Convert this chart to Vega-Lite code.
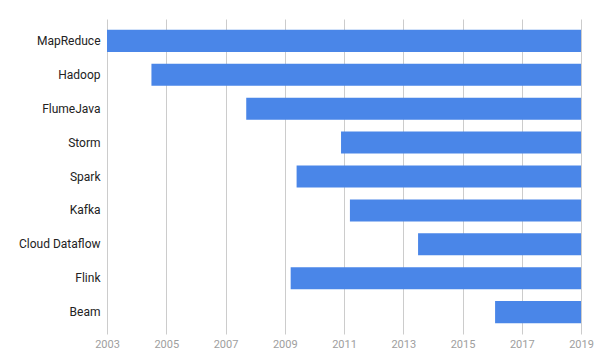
{
  "$schema": "https://vega.github.io/schema/vega-lite/v6.json",
  "width": 474,
  "height": 315,
  "autosize": {"type": "none"},
  "padding": {"left": 107, "top": 19, "right": 19, "bottom": 17},
  "background": "white",
  "config": {"view": {"stroke": null}, "font": "Roboto"},
  "data": {"values": [
    {"name": "MapReduce", "start": 2003.0, "end": 2019},
    {"name": "Hadoop", "start": 2004.5, "end": 2019},
    {"name": "FlumeJava", "start": 2007.7, "end": 2019},
    {"name": "Storm", "start": 2010.9, "end": 2019},
    {"name": "Spark", "start": 2009.4, "end": 2019},
    {"name": "Kafka", "start": 2011.2, "end": 2019},
    {"name": "Cloud Dataflow", "start": 2013.5, "end": 2019},
    {"name": "Flink", "start": 2009.2, "end": 2019},
    {"name": "Beam", "start": 2016.1, "end": 2019}
  ]},
  "mark": {"type": "bar", "color": "#4a86e8"},
  "encoding": {
    "y": {
      "field": "name", "type": "nominal", "sort": null,
      "scale": {"paddingInner": 0.35, "paddingOuter": 0.32},
      "axis": {"title": null, "domain": false, "ticks": false, "grid": false,
               "labelFontSize": 12, "labelColor": "#222222", "labelPadding": 7, "labelFont": "Roboto"}
    },
    "x": {
      "field": "start", "type": "quantitative",
      "scale": {"domain": [2003, 2019], "nice": false, "zero": false},
      "axis": {"title": null, "domain": false, "ticks": false, "grid": true, "gridColor": "#cccccc",
               "values": [2003, 2005, 2007, 2009, 2011, 2013, 2015, 2017, 2019], "format": "d",
               "labelFlush": false,
               "labelFontSize": 11, "labelColor": "#9e9e9e", "labelPadding": 4, "labelFont": "Roboto"}
    },
    "x2": {"field": "end"}
  }
}
